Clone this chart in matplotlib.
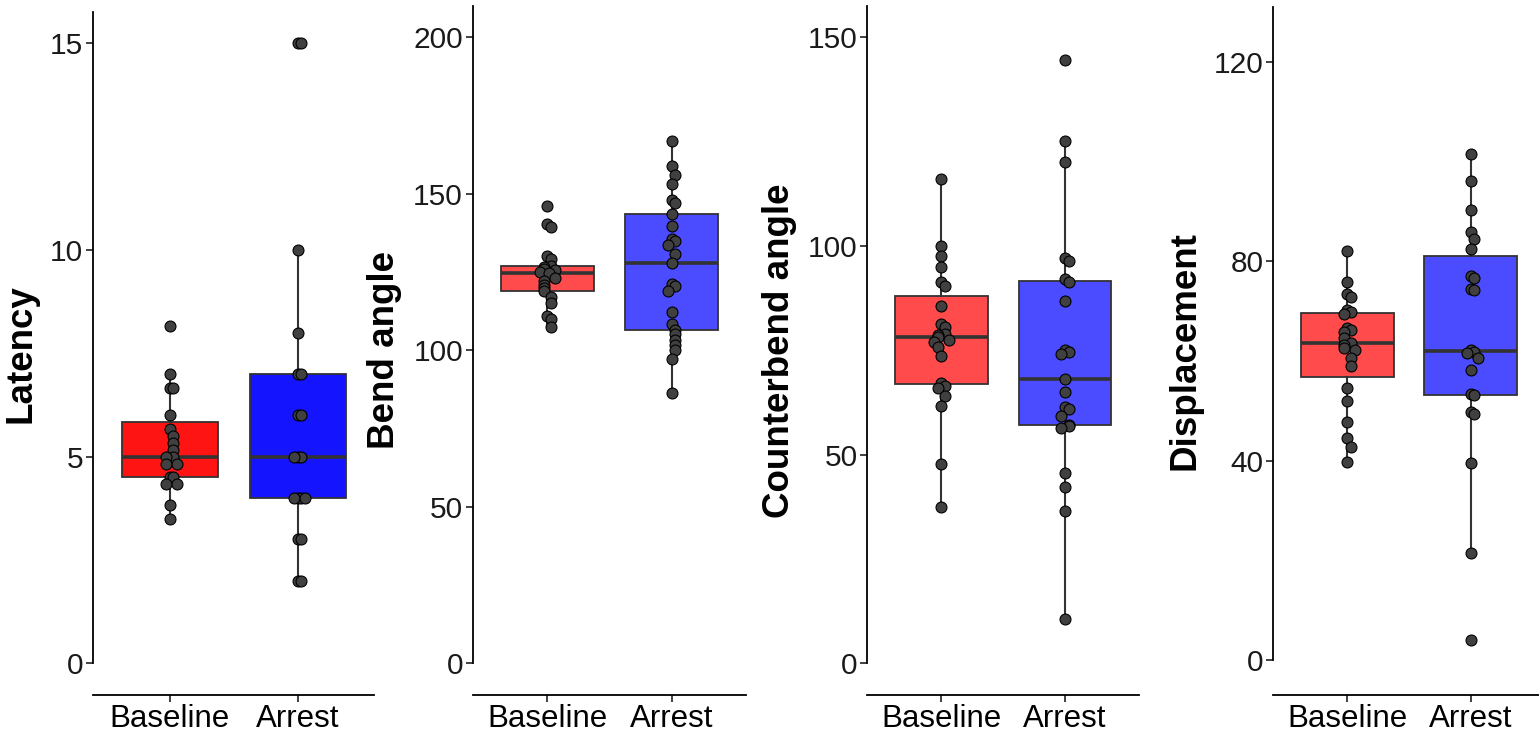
import numpy as np
import matplotlib.pyplot as plt

plt.rcParams['font.family'] = ['Liberation Sans', 'DejaVu Sans']

groups = ["Baseline", "Arrest"]

latency_base = [8.17, 7, 6.67, 6.67, 6, 5.67, 5.5, 5.33, 5.17, 5, 5, 4.83, 4.83,
                4.5, 4.5, 4.33, 4.33, 3.83, 3.5]
latency_arrest = [15, 15, 10, 8, 7, 7, 6, 6, 5, 5, 5, 4, 4, 4, 4, 3, 3, 2, 2]

bend_base = [146, 140.5, 139.5, 130, 129, 127, 126.5, 126, 125.5, 125, 124.6,
             123, 122, 121, 120, 119, 117, 115, 111, 110, 107.5]
bend_arrest = [166.8, 158.9, 156.1, 153, 148, 147, 143.5, 139.6, 135.5, 135,
               133.5, 130.9, 127.9, 121.3, 120.5, 118.9, 112.2, 108.3, 106.6,
               105.1, 103.4, 101.8, 100.2, 97.2, 86.4]

counter_base = [116, 100, 97.5, 95, 91.3, 90.4, 85.5, 81.3, 80.5, 79, 78.6, 78.2,
                77.5, 77, 75.8, 73.6, 67.2, 66.5, 66, 64, 61.7, 47.8, 37.5]
counter_arrest = [144.5, 125.2, 120.1, 97, 96.3, 92, 91.4, 86.8, 75.1, 74.5, 74,
                  68.1, 65.1, 61.3, 61, 59.2, 57.2, 56.8, 56.3, 45.5, 42.3, 36.5, 10.5]

disp_base = [82, 75.8, 73.5, 72.9, 70.3, 69.8, 69.5, 66.6, 66.3, 65.9, 64.6, 63.6,
             63.2, 62.6, 62.2, 60.5, 59, 54.5, 52, 47.8, 44.5, 42.8, 39.8]
disp_arrest = [101.5, 96.1, 90.3, 85.9, 84.5, 82.4, 77, 76.7, 74.4, 74.2, 62.2,
               61.7, 61.6, 60.6, 58.1, 53.4, 53.2, 49.8, 49.4, 39.5, 21.5, 4.0]

labels = ["Latency", "Bend angle", "Counterbend angle", "Displacement"]
yticks = [[0, 5, 10, 15], [0, 50, 100, 150, 200], [0, 50, 100, 150], [0, 40, 80, 120]]
ylims = [(-0.75, 15.75), (-10, 210), (-7.5, 157.5), (-6.9, 131)]
datasets = [(latency_base, latency_arrest), (bend_base, bend_arrest),
            (counter_base, counter_arrest), (disp_base, disp_arrest)]

W, H = 1539, 737
# axes boxes in pixels: left, top, width, bottom
boxes = [(92.7, 12, 281.6, 694.5), (472.7, 6, 273.5, 694.5),
         (867.3, 6, 271.9, 694.5), (1273.3, 7, 271.3, 694.5)]
fills = [("#ff1414", "#1414ff"), ("#ff4b4b", "#4b4bff"),
         ("#ff4b4b", "#4b4bff"), ("#ff4b4b", "#4b4bff")]

dark = "#333333"


def spread(vals, tol, step=0.03):
    # small sideways offsets so that overlapping points stay visible
    offs, placed = [], []
    for v in vals:
        n = sum(abs(v - p) < tol for p in placed)
        offs.append([0, 1, -1, 2, -2, 0.5, -0.5][min(n, 6)] * step)
        placed.append(v)
    return np.array(offs)


fig = plt.figure(figsize=(W / 100, H / 100), dpi=100)

for i in range(4):
    left, top, width, bottom = boxes[i]
    ax = fig.add_axes([left / W, 1 - bottom / H, width / W, (bottom - top) / H])
    base, arrest = datasets[i]
    bp = ax.boxplot([base, arrest], positions=[1, 2], widths=0.75, patch_artist=True,
                    showfliers=False, showcaps=False, whis=1.5,
                    boxprops=dict(edgecolor=dark, linewidth=1.3),
                    whiskerprops=dict(color=dark, linewidth=1.5),
                    medianprops=dict(color=dark, linewidth=2.6))
    for patch, c in zip(bp['boxes'], fills[i]):
        patch.set_facecolor(c)

    lo, hi = ylims[i]
    tol = 9 * (hi - lo) / (bottom - top)
    for x, vals in zip([1, 2], [base, arrest]):
        ax.scatter(x + spread(vals, tol), vals, s=62, facecolor="#404040",
                   edgecolor="black", linewidth=0.8, zorder=5)

    ax.set_xlim(0.4, 2.6)
    ax.set_ylim(lo, hi)
    ax.set_yticks(yticks[i])
    ax.set_xticks([1, 2])
    ax.set_xticklabels(groups)
    ax.set_ylabel(labels[i], fontsize=26.5, fontweight="bold", labelpad=8)

    for s in ["top", "right"]:
        ax.spines[s].set_visible(False)
    ax.spines['left'].set_bounds(0, hi)
    ax.spines['left'].set_linewidth(1.3)
    ax.spines['bottom'].set_linewidth(1.3)
    ax.spines['left'].set_color("black")
    ax.spines['bottom'].set_color("black")
    ax.tick_params(axis='y', labelsize=21.5, length=5, width=1.3, pad=2, colors=dark,
                   labelcolor="#1a1a1a")
    ax.tick_params(axis='x', labelsize=22.5, length=5, width=1.3, pad=2, colors=dark,
                   labelcolor="black")

fig.savefig("out.png", dpi=100)
